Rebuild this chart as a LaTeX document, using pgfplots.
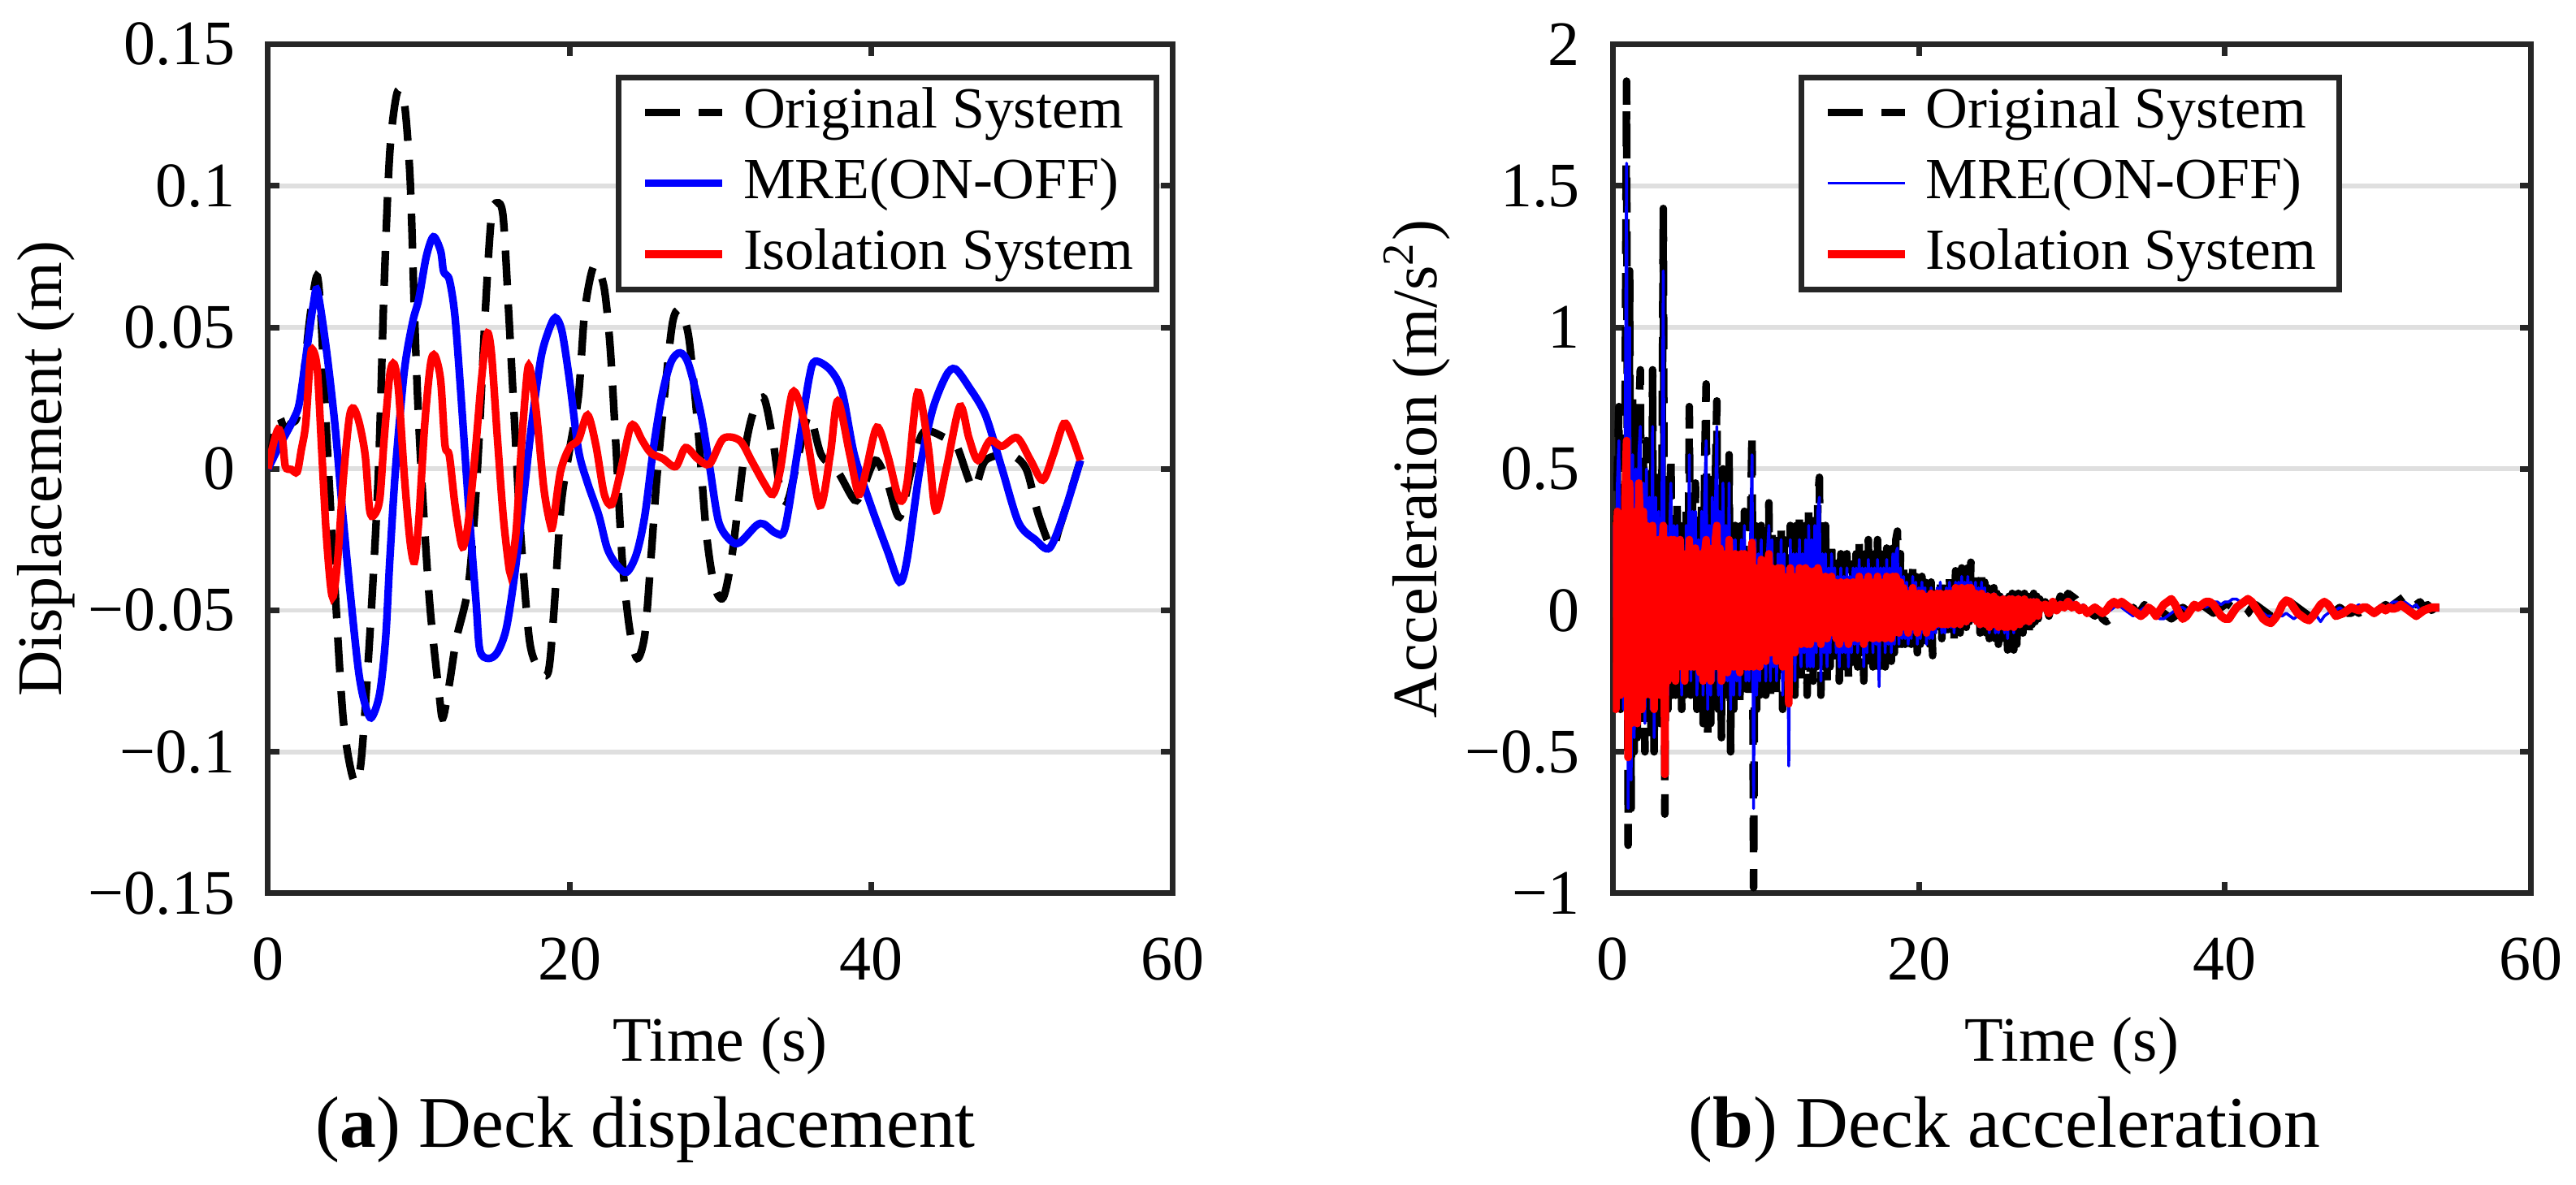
\documentclass[border=0pt]{standalone}
\usepackage{fontspec}
\setmainfont{Liberation Serif}
\usepackage{pgfplots}
\pgfplotsset{compat=1.18}
\definecolor{axgray}{HTML}{262626}
\definecolor{gridgray}{HTML}{DFDFDF}
\definecolor{mblue}{HTML}{0000FF}
\definecolor{mred}{HTML}{FF0000}
\pgfplotsset{
  common/.style={
    scale only axis,
    xmin=0, xmax=60, xtick={0,20,40,60}, xticklabels={0,20,40,60},
    axis line style={line width=0.9pt, draw=axgray},
    every tick/.style={line width=0.9pt, draw=axgray},
    major tick length=1.8pt, tick align=inside, xtick pos=both, ytick pos=both,
    ymajorgrids, grid style={line width=0.75pt, draw=gridgray},
    tick label style={font=\fontsize{10}{12}\selectfont, inner sep=0pt},
    xticklabel style={yshift=-6.8pt},
    yticklabel style={xshift=-5pt},
    every axis x label/.style={at={(axis description cs:0.5,-0.198)}, anchor=base, inner sep=0pt, font=\fontsize{10}{12}\selectfont},
    legend style={font=\fontsize{9.2}{11}\selectfont, draw=axgray, line width=0.9pt, fill=white,
      inner xsep=3.6pt, inner ysep=1.6pt, nodes={inner sep=0pt}, row sep=3.3pt, column sep=2.7pt},
    legend cell align=left,
    legend image code/.code={\draw[line join=round,##1] (0pt,0pt) -- (12.2pt,0pt);},
  }
}
\begin{document}
\begin{tikzpicture}
\useasboundingbox (0,0) rectangle (406.5pt,187pt);
% ---------------- (a) displacement
\begin{axis}[common, at={(42.3pt,46pt)}, anchor=south west, width=142.7pt, height=134pt,
  ymin=-0.15, ymax=0.15, ytick={-0.15,-0.1,-0.05,0,0.05,0.1,0.15},
  yticklabels={−0.15,−0.1,−0.05,0,0.05,0.1,0.15},
  xlabel={Time (s)}, ylabel={Displacement (m)},
  every axis y label/.style={at={(axis description cs:-0.229,0.5)}, rotate=90, anchor=base, inner sep=0pt, font=\fontsize{10}{12}\selectfont},
  legend style={at={(0.9856,0.9646)}, anchor=north east}]
\addplot[black, line width=1.2pt, dash pattern=on 5.5pt off 3pt, smooth] coordinates {
(0,0) (0.4,0.012) (0.77,0.018) (1.15,0.013) (1.5,0.016) (1.9,0.018) (2.3,0.03) (2.7,0.05) (3.0,0.062) (3.27,0.068) (3.5,0.055) (3.85,0.016) (4.43,-0.041) (5.0,-0.089) (5.68,-0.110) (6.16,-0.104) (6.74,-0.060) (7.31,-0.003) (7.7,0.064) (8.08,0.112) (8.57,0.133) (9.05,0.129) (9.43,0.102) (9.72,0.054) (10.0,0.016) (10.4,-0.022) (10.78,-0.051) (11.36,-0.080) (11.6,-0.088) (12.03,-0.076) (12.5,-0.060) (13.3,-0.041) (13.86,-0.003) (14.44,0.058) (14.82,0.089) (15.2,0.094) (15.6,0.089) (15.98,0.054) (16.36,0.016) (16.75,-0.022) (17.33,-0.060) (17.9,-0.070) (18.58,-0.072) (18.96,-0.051) (19.44,-0.013) (20.0,0.0065) (20.6,0.026) (20.98,0.054) (21.4,0.068) (21.75,0.072) (22.3,0.064) (22.7,0.043) (23.1,0.0065) (23.5,-0.032) (24.0,-0.057) (24.5,-0.067) (25.0,-0.0585) (25.4,-0.032) (25.8,-0.003) (26.4,0.031) (26.85,0.052) (27.3,0.056) (27.9,0.047) (28.5,0.016) (29.07,-0.022) (29.6,-0.041) (30.2,-0.0455) (30.8,-0.03) (31.6,0.005) (32.2,0.02) (32.9,0.025) (33.5,0.01) (34.0,-0.008) (34.5,-0.011) (35.2,0.005) (35.9,0.019) (36.7,0.005) (37.8,-0.001) (38.9,-0.011) (39.4,-0.008) (40.3,0.003) (41.1,-0.005) (41.9,-0.017) (42.7,0) (43.5,0.013) (44.9,0.011) (45.7,0.008) (46.8,-0.007) (47.6,0.003) (49.2,0.005) (50.3,0) (51.1,-0.016) (52.0,-0.028) (52.5,-0.021) (53.9,0.003)
};
\addlegendentry{Original System}
\addplot[mblue, line width=1.2pt, smooth] coordinates {
(0,0) (0.77,0.0084) (1.15,0.012) (1.73,0.018) (2.1,0.024) (2.7,0.047) (3.0,0.058) (3.27,0.063) (3.85,0.043) (4.43,0.016) (4.9,-0.0126) (5.4,-0.041) (5.97,-0.070) (6.35,-0.0815) (6.83,-0.088) (7.4,-0.0796) (7.8,-0.060) (8.08,-0.032) (8.47,0.0008) (9.05,0.035) (9.6,0.052) (10.0,0.060) (10.5,0.075) (10.97,0.082) (11.45,0.077) (11.65,0.0697) (12.03,0.0668) (12.4,0.054) (12.8,0.026) (13.3,-0.0126) (13.8,-0.047) (14.05,-0.064) (14.6,-0.067) (15.2,-0.065) (15.8,-0.0566) (16.36,-0.0375) (16.9,-0.0126) (17.5,0.016) (18.1,0.039) (18.6,0.0486) (19.06,0.0534) (19.5,0.0486) (20.0,0.0314) (20.6,0.0065) (21.2,-0.005) (21.95,-0.0165) (22.5,-0.028) (23.1,-0.0337) (23.8,-0.0365) (24.45,-0.030) (25.0,-0.0165) (25.6,0.0084) (26.2,0.0275) (26.76,0.038) (27.34,0.041) (27.9,0.037) (28.7,0.020) (29.3,0.0008) (29.9,-0.0187) (30.7,-0.0254) (31.3,-0.026) (32.4,-0.020) (32.9,-0.0195) (33.7,-0.0227) (34.3,-0.021) (35.1,0.005) (35.9,0.032) (36.3,0.038) (37.3,0.035) (38.1,0.027) (38.9,0.005) (40.0,-0.013) (41.1,-0.029) (41.9,-0.040) (42.4,-0.032) (43.25,0) (44.1,0.021) (45.0,0.033) (45.6,0.0353) (46.5,0.029) (47.6,0.019) (48.7,0) (49.8,-0.019) (50.9,-0.025) (51.85,-0.028) (52.8,-0.016) (53.9,0.003)
};
\addlegendentry{MRE(ON-OFF)}
\addplot[mred, line width=1.2pt, smooth] coordinates {
(0,0) (0.29,0.0075) (0.67,0.014) (0.96,0.0103) (1.15,0.0008) (1.54,-0.0002) (1.93,-0.0011) (2.2,0.0065) (2.5,0.016) (2.8,0.039) (2.98,0.042) (3.27,0.035) (3.56,0.0065) (3.85,-0.022) (4.14,-0.041) (4.33,-0.045) (4.62,-0.032) (5.0,-0.003) (5.39,0.018) (5.68,0.0214) (6.06,0.016) (6.45,0.0046) (6.74,-0.0145) (7.03,-0.0164) (7.41,-0.0107) (7.7,0.0103) (8.08,0.0333) (8.37,0.037) (8.66,0.0276) (9.05,-0.003) (9.43,-0.026) (9.72,-0.0327) (10.0,-0.0183) (10.4,0.016) (10.78,0.037) (11.07,0.040) (11.45,0.0314) (11.74,0.0084) (12.03,0.0046) (12.4,-0.0126) (12.8,-0.026) (13.0,-0.027) (13.3,-0.0183) (13.76,0.0065) (14.15,0.031) (14.53,0.0477) (14.82,0.041) (15.2,0.0122) (15.6,-0.0164) (15.98,-0.0346) (16.1,-0.035) (16.46,-0.022) (16.84,0.0103) (17.2,0.034) (17.4,0.035) (17.8,0.020) (18.3,-0.0069) (18.7,-0.019) (18.9,-0.0198) (19.4,-0.0011) (20.0,0.0075) (20.6,0.0103) (21.2,0.019) (21.75,0.0084) (22.3,-0.0088) (22.8,-0.0126) (23.3,-0.003) (24.0,0.014) (24.35,0.015) (24.8,0.0103) (25.4,0.0056) (26.2,0.0036) (27.05,0.0008) (27.7,0.0075) (28.5,0.0036) (29.3,0.0017) (30.2,0.0107) (31.3,0.010) (32.1,0.0027) (32.9,-0.005) (33.5,-0.009) (34.0,0) (34.8,0.027) (35.6,0.016) (36.6,-0.013) (37.3,0.005) (37.8,0.024) (38.6,0.005) (39.2,-0.009) (39.7,0) (40.4,0.0147) (41.1,0.005) (41.9,-0.011) (42.4,-0.005) (43.1,0.027) (43.8,0.008) (44.3,-0.0147) (45.0,0) (45.9,0.022) (46.5,0.011) (47.1,0.003) (47.9,0.010) (48.7,0.008) (49.7,0.011) (50.6,0.003) (51.4,-0.004) (52.1,0.005) (52.8,0.016) (53.3,0.012) (53.9,0.003)
};
\addlegendentry{Isolation System}
\end{axis}
% ---------------- (b) acceleration
\begin{axis}[common, at={(254.5pt,46pt)}, anchor=south west, width=144.9pt, height=134pt,
  ymin=-1, ymax=2, ytick={-1,-0.5,0,0.5,1,1.5,2},
  yticklabels={−1,−0.5,0,0.5,1,1.5,2},
  xlabel={Time (s)}, ylabel={Acceleration (m/s\textsuperscript{2})},
  every axis y label/.style={at={(axis description cs:-0.192,0.5)}, rotate=90, anchor=base, inner sep=0pt, font=\fontsize{10}{12}\selectfont},
  legend style={at={(0.498,0.9646)}, anchor=north}]
\addplot[black, line width=1.2pt, dash pattern=on 5.5pt off 3pt, line join=round] table[row sep=\\, header=false, x expr=\coordindex*0.1, y index=0] {
0\\0.35\\-0.2\\0.5\\0.72\\-0.35\\0.4\\-0.3\\0.6\\1.87\\
-0.83\\1.2\\-0.7\\0.75\\-0.5\\0.6\\-0.45\\0.7\\0.85\\-0.4\\
0.55\\-0.5\\0.6\\-0.35\\0.5\\-0.45\\0.85\\-0.5\\0.45\\-0.3\\
0.5\\-0.4\\0.3\\1.42\\-0.72\\0.4\\-0.35\\0.3\\0.55\\-0.3\\
0.35\\-0.3\\0.4\\-0.25\\0.3\\-0.35\\0.25\\-0.3\\0.35\\-0.25\\
0.72\\-0.3\\0.4\\-0.25\\0.45\\-0.35\\0.3\\-0.3\\0.4\\-0.4\\
0.5\\0.80\\-0.45\\0.35\\-0.4\\0.5\\-0.3\\0.45\\0.74\\-0.35\\
0.4\\-0.45\\0.5\\-0.3\\0.35\\-0.3\\0.55\\-0.5\\0.3\\-0.35\\
0.3\\-0.3\\0.25\\-0.35\\0.3\\-0.25\\0.35\\-0.3\\0.2\\-0.3\\
0.3\\0.63\\-0.98\\0.3\\-0.35\\0.25\\-0.3\\0.3\\-0.25\\0.2\\
-0.3\\0.25\\0.38\\-0.3\\0.3\\-0.25\\0.2\\-0.3\\0.28\\-0.2\\
0.3\\-0.35\\0.25\\-0.3\\0.2\\-0.25\\0.3\\-0.2\\0.25\\-0.3\\
0.3\\-0.2\\0.35\\-0.25\\0.3\\-0.2\\0.3\\-0.3\\0.35\\-0.25\\
0.3\\-0.25\\0.35\\-0.2\\0.4\\0.47\\-0.3\\0.25\\-0.2\\0.3\\
-0.25\\0.2\\-0.2\\0.25\\-0.15\\0.2\\-0.2\\0.18\\-0.25\\0.2\\
-0.2\\0.15\\-0.2\\0.2\\-0.25\\0.15\\-0.2\\0.2\\-0.15\\0.2\\
-0.2\\0.25\\-0.15\\0.2\\-0.25\\0.2\\-0.2\\0.25\\-0.15\\0.2\\
-0.2\\0.2\\-0.15\\0.25\\-0.2\\0.2\\-0.15\\0.18\\-0.2\\0.22\\
-0.15\\0.2\\-0.18\\0.22\\-0.15\\0.25\\0.28\\-0.15\\0.2\\-0.12\\
0.15\\-0.12\\0.12\\-0.15\\0.1\\-0.12\\0.15\\-0.1\\0.12\\-0.15\\
0.1\\-0.12\\0.12\\-0.1\\0.1\\-0.15\\0.08\\-0.12\\0.1\\-0.16\\
0.08\\-0.1\\0.1\\-0.08\\0.12\\-0.1\\0.08\\-0.1\\0.1\\-0.08\\
0.12\\-0.08\\0.1\\-0.1\\0.14\\-0.06\\0.12\\-0.08\\0.15\\-0.05\\
0.12\\-0.06\\0.15\\-0.04\\0.17\\0.12\\-0.05\\0.14\\-0.06\\0.1\\
-0.08\\0.12\\-0.06\\0.1\\-0.08\\0.08\\-0.1\\0.06\\-0.08\\0.08\\
-0.1\\0.06\\-0.12\\0.05\\-0.1\\0.06\\-0.12\\0.04\\-0.14\\0.05\\
-0.1\\0.06\\-0.14\\0.04\\-0.12\\0.06\\-0.1\\0.05\\-0.08\\0.06\\
-0.06\\0.05\\-0.08\\0.04\\-0.05\\0.06\\-0.04\\0.05\\-0.03\\0.04\\
0\\
};
\addlegendentry{Original System}
\addplot[black, line width=1.2pt, dash pattern=on 5.5pt off 3pt, line join=round, forget plot] table[row sep=\\, header=false, x expr=28+\coordindex*0.25, y index=0] {
0\\
0.03\\-0.02\\0.04\\0.01\\0.05\\0.03\\0.06\\0.05\\0.04\\0.02\\0.03\\0\\-0.01\\-0.02\\0\\-0.03\\
-0.04\\-0.03\\-0.02\\0\\0.01\\0.02\\0\\0.01\\-0.01\\0\\0.02\\0.01\\0\\-0.01\\-0.02\\-0.01\\
-0.02\\-0.03\\-0.02\\0\\0.01\\0\\-0.01\\0\\0.01\\0.02\\0.01\\0\\-0.01\\0\\0.01\\0.02\\
0.02\\0.01\\0\\-0.01\\-0.02\\-0.01\\0.01\\0.02\\0.01\\0\\-0.01\\-0.02\\-0.02\\-0.01\\0\\0.02\\
0.03\\0.02\\0.01\\0\\-0.01\\-0.02\\-0.02\\-0.01\\0\\-0.01\\-0.02\\-0.01\\0\\0.01\\0\\-0.01\\
-0.01\\0\\-0.01\\0\\0.01\\0\\-0.01\\0\\0.01\\0.02\\0.01\\0.02\\0.03\\0.04\\0.05\\0.03\\
0.04\\0.02\\0.03\\0.01\\0.02\\0\\0.01\\0.01\\
};
\addplot[mblue, line width=0.45pt, line join=round] table[row sep=\\, header=false, x expr=\coordindex*0.1, y index=0] {
0\\0.3\\-0.25\\0.45\\0.6\\-0.3\\0.35\\-0.35\\0.5\\1.58\\
-0.7\\1.0\\-0.6\\0.55\\-0.45\\0.5\\-0.4\\0.55\\0.65\\-0.35\\
0.45\\-0.4\\0.5\\-0.3\\0.4\\-0.35\\0.65\\-0.45\\0.4\\-0.25\\
0.35\\-0.3\\0.25\\1.2\\-0.45\\0.3\\-0.3\\0.25\\0.45\\-0.25\\
0.3\\-0.25\\0.3\\-0.2\\0.25\\-0.3\\0.2\\-0.25\\0.3\\-0.2\\
0.55\\-0.25\\0.35\\-0.2\\0.35\\-0.3\\0.25\\-0.25\\0.35\\-0.3\\
0.4\\0.6\\-0.35\\0.3\\-0.3\\0.4\\-0.25\\0.35\\0.65\\-0.3\\
0.35\\-0.35\\0.45\\-0.25\\0.3\\-0.25\\0.45\\-0.35\\0.25\\-0.3\\
0.25\\-0.25\\0.2\\-0.3\\0.25\\-0.2\\0.3\\-0.25\\0.2\\-0.25\\
0.25\\0.55\\-0.7\\0.25\\-0.3\\0.2\\-0.25\\0.25\\-0.2\\0.15\\
-0.25\\0.2\\0.3\\-0.25\\0.25\\-0.2\\0.15\\-0.25\\0.2\\-0.15\\
0.25\\-0.3\\0.2\\-0.25\\0.15\\-0.55\\0.25\\-0.15\\0.2\\-0.25\\
0.2\\-0.15\\0.25\\-0.2\\0.2\\-0.15\\0.25\\-0.2\\0.3\\-0.2\\
0.25\\-0.2\\0.3\\-0.15\\0.35\\0.4\\-0.25\\0.2\\-0.15\\0.2\\
-0.2\\0.15\\-0.15\\0.2\\-0.1\\0.15\\-0.15\\0.12\\-0.2\\0.15\\
-0.15\\0.12\\-0.15\\0.15\\-0.2\\0.12\\-0.15\\0.15\\-0.12\\0.15\\
-0.15\\0.18\\-0.12\\0.15\\-0.2\\0.15\\-0.15\\0.18\\-0.1\\0.15\\
-0.15\\0.15\\-0.12\\0.18\\-0.27\\0.15\\-0.1\\0.15\\-0.15\\0.18\\
-0.12\\0.15\\-0.15\\0.2\\-0.12\\0.2\\0.22\\-0.12\\0.15\\-0.1\\
0.12\\-0.1\\0.1\\-0.12\\0.08\\-0.1\\0.12\\-0.08\\0.1\\-0.12\\
0.08\\-0.1\\0.1\\-0.08\\0.08\\-0.12\\0.06\\-0.1\\0.08\\-0.1\\
0.06\\-0.08\\0.08\\-0.06\\0.1\\-0.08\\0.06\\-0.08\\0.08\\-0.06\\
0.1\\-0.06\\0.08\\-0.08\\0.1\\-0.05\\0.1\\-0.06\\0.12\\-0.04\\
0.1\\-0.05\\0.12\\-0.04\\0.1\\0.08\\-0.04\\0.1\\-0.05\\0.08\\
-0.06\\0.1\\-0.05\\0.08\\-0.06\\0.06\\-0.08\\0.05\\-0.06\\0.06\\
-0.08\\0.05\\-0.08\\0.04\\-0.06\\0.05\\-0.08\\0.04\\-0.1\\0.04\\
-0.06\\0.05\\-0.08\\0.03\\-0.06\\0.05\\-0.05\\0.04\\-0.05\\0.04\\
-0.04\\0.04\\-0.05\\0.03\\-0.04\\0.04\\-0.03\\0.03\\-0.02\\0.03\\
0\\
};
\addlegendentry{MRE(ON-OFF)}
\addplot[mblue, line width=0.45pt, line join=round, forget plot] table[row sep=\\, header=false, x expr=28+\coordindex*0.25, y index=0] {
0\\
0.02\\-0.01\\0.03\\0.02\\0.03\\0.02\\0.04\\0.03\\0.02\\0.01\\0.02\\0\\-0.01\\0\\-0.01\\0\\
0.01\\0\\0.01\\0.02\\0.01\\0\\-0.01\\-0.02\\-0.01\\0\\0.01\\0\\-0.01\\-0.02\\-0.03\\-0.03\\
-0.02\\-0.01\\0\\0.01\\0.01\\0\\0\\0.01\\0.02\\0.02\\0.01\\0.02\\0.03\\0.03\\0.02\\0.03\\
0.03\\0.04\\0.04\\0.03\\0.04\\0.03\\0.02\\0.01\\0\\-0.01\\-0.02\\-0.02\\-0.03\\-0.02\\-0.02\\-0.01\\
-0.02\\-0.03\\-0.02\\-0.03\\-0.02\\-0.03\\-0.01\\-0.02\\-0.04\\-0.02\\-0.01\\0\\0\\0.01\\0\\0.01\\
0.02\\0.01\\0.02\\0.01\\0.02\\0.01\\0\\0.01\\0.02\\0.01\\0.02\\0.03\\0.03\\0.02\\0.03\\0.02\\
0.01\\0.02\\0\\0.01\\0\\0.01\\0\\0\\
};
\addplot[mred, line width=1.2pt, line join=round] table[row sep=\\, header=false, x expr=\coordindex*0.1, y index=0] {
0\\0.3\\-0.35\\0.35\\0.25\\-0.3\\0.3\\-0.25\\0.4\\0.6\\
-0.52\\0.45\\-0.4\\0.35\\-0.35\\0.3\\-0.4\\0.45\\0.3\\-0.35\\
0.35\\-0.3\\0.3\\-0.25\\0.28\\-0.3\\0.3\\-0.35\\0.25\\-0.3\\
0.25\\-0.3\\0.2\\0.3\\-0.58\\0.25\\-0.25\\0.2\\0.25\\-0.2\\
0.25\\-0.25\\0.2\\-0.2\\0.25\\-0.2\\0.2\\-0.25\\0.2\\-0.2\\
0.25\\-0.2\\0.2\\-0.2\\0.22\\-0.2\\0.2\\-0.22\\0.2\\-0.25\\
0.2\\0.25\\-0.2\\0.22\\-0.25\\0.2\\-0.2\\0.25\\0.3\\-0.2\\
0.22\\-0.25\\0.2\\-0.2\\0.2\\-0.22\\0.25\\-0.2\\0.18\\-0.2\\
0.2\\-0.2\\0.15\\-0.22\\0.2\\-0.15\\0.2\\-0.2\\0.15\\-0.2\\
0.15\\0.24\\-0.2\\0.15\\-0.18\\0.15\\-0.2\\0.18\\-0.15\\0.12\\
-0.18\\0.15\\0.2\\-0.15\\0.15\\-0.15\\0.12\\-0.18\\0.15\\-0.12\\
0.15\\-0.2\\0.12\\-0.15\\0.1\\-0.33\\0.15\\-0.12\\0.12\\-0.15\\
0.12\\-0.1\\0.15\\-0.12\\0.12\\-0.1\\0.15\\-0.12\\0.14\\-0.12\\
0.12\\-0.1\\0.14\\-0.1\\0.15\\0.12\\-0.12\\0.1\\-0.1\\0.12\\
-0.1\\0.1\\-0.08\\0.12\\-0.08\\0.1\\-0.1\\0.08\\-0.12\\0.1\\
-0.1\\0.08\\-0.1\\0.1\\-0.12\\0.08\\-0.1\\0.1\\-0.08\\0.1\\
-0.1\\0.12\\-0.08\\0.1\\-0.12\\0.1\\-0.1\\0.12\\-0.08\\0.1\\
-0.1\\0.1\\-0.08\\0.12\\-0.1\\0.1\\-0.08\\0.1\\-0.1\\0.12\\
-0.08\\0.1\\-0.1\\0.12\\-0.08\\0.12\\0.1\\-0.08\\0.1\\-0.06\\
0.08\\-0.06\\0.06\\-0.08\\0.06\\-0.06\\0.08\\-0.05\\0.06\\-0.08\\
0.06\\-0.06\\0.06\\-0.05\\0.05\\-0.08\\0.05\\-0.06\\0.06\\-0.06\\
0.05\\-0.05\\0.06\\-0.04\\0.06\\-0.05\\0.05\\-0.05\\0.06\\-0.05\\
0.06\\-0.04\\0.06\\-0.05\\0.08\\-0.04\\0.06\\-0.05\\0.08\\-0.04\\
0.06\\-0.04\\0.08\\-0.03\\0.08\\0.06\\-0.03\\0.06\\-0.04\\0.05\\
-0.05\\0.06\\-0.04\\0.05\\-0.05\\0.05\\-0.06\\0.04\\-0.05\\0.05\\
-0.05\\0.04\\-0.06\\0.03\\-0.05\\0.04\\-0.06\\0.03\\-0.06\\0.04\\
-0.05\\0.04\\-0.06\\0.03\\-0.05\\0.04\\-0.05\\0.03\\-0.04\\0.04\\
-0.03\\0.03\\-0.04\\0.03\\-0.03\\0.03\\-0.02\\0.03\\-0.02\\0.02\\
0\\
};
\addlegendentry{Isolation System}
\addplot[mred, line width=1.3pt, line join=round, forget plot] table[row sep=\\, header=false, x expr=28+\coordindex*0.25, y index=0] {
0\\
0.02\\-0.01\\0.03\\0\\0.02\\0.01\\0.03\\0.01\\0.02\\0\\0.01\\-0.01\\0\\0.01\\0\\-0.01\\
0\\0.02\\0.03\\0.02\\0.03\\0.02\\0.01\\0\\-0.01\\-0.02\\-0.01\\0.01\\0\\-0.02\\0\\0.02\\
0.03\\0.04\\0.02\\-0.01\\-0.03\\-0.02\\0\\0.02\\0.01\\0.02\\0.03\\0.03\\0.02\\0\\-0.02\\-0.03\\
-0.03\\-0.01\\0.01\\0.02\\0.03\\0.04\\0.03\\0.01\\-0.01\\-0.03\\-0.04\\-0.045\\-0.03\\-0.01\\0.02\\0.035\\
0.03\\0.01\\-0.01\\-0.02\\-0.03\\-0.035\\-0.02\\0\\0.02\\0.03\\0.02\\0\\-0.02\\-0.015\\-0.01\\0\\
0.01\\0.005\\0\\0.01\\0.01\\0\\-0.01\\0\\0.01\\0\\0.01\\0.005\\0.01\\0.02\\0.01\\0\\
-0.01\\-0.02\\-0.01\\0\\0.005\\0.01\\0.01\\0.01\\
};
\end{axis}
\node[anchor=base, inner sep=0pt, font=\fontsize{11.5}{13}\selectfont] at (101.9pt,5.9pt) {(\textbf{a}) Deck displacement};
\node[anchor=base, inner sep=0pt, font=\fontsize{11.5}{13}\selectfont] at (316.3pt,5.9pt) {(\textbf{b}) Deck acceleration};
\end{tikzpicture}
\end{document}
